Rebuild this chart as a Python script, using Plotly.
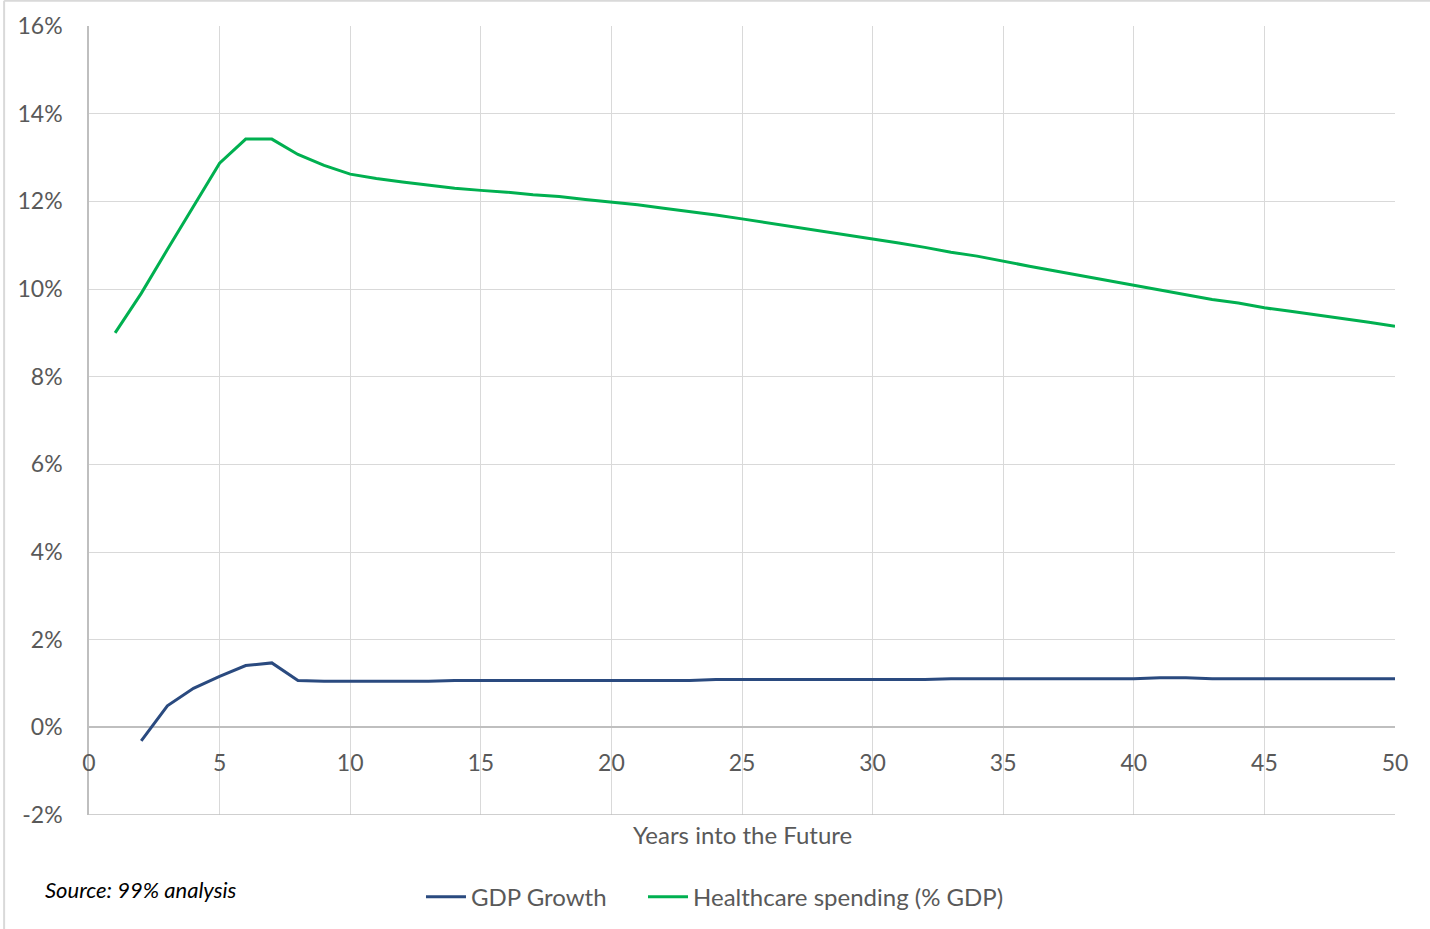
import plotly.graph_objects as go

# Years into the future
years = list(range(1, 51))

# GDP growth (%), no value for year 1
gdp_growth = [None, -0.31, 0.49, 0.89, 1.16, 1.41, 1.47, 1.07, 1.05, 1.05,
              1.05, 1.05, 1.05, 1.07, 1.07, 1.07, 1.07, 1.07, 1.07, 1.07,
              1.07, 1.07, 1.07, 1.09, 1.09, 1.09, 1.09, 1.09, 1.09, 1.09,
              1.09, 1.09, 1.11, 1.11, 1.11, 1.11, 1.11, 1.11, 1.11, 1.11,
              1.13, 1.13, 1.11, 1.11, 1.11, 1.11, 1.11, 1.11, 1.11, 1.11]

# Healthcare spending as % of GDP
healthcare = [9.0, 9.9, 10.9, 11.9, 12.87, 13.42, 13.42, 13.07, 12.82, 12.62,
              12.52, 12.44, 12.37, 12.30, 12.25, 12.21, 12.15, 12.11, 12.04, 11.98,
              11.92, 11.84, 11.77, 11.69, 11.60, 11.51, 11.42, 11.33, 11.23, 11.15,
              11.05, 10.95, 10.84, 10.75, 10.63, 10.52, 10.41, 10.30, 10.19, 10.08,
              9.98, 9.86, 9.76, 9.68, 9.57, 9.49, 9.41, 9.32, 9.24, 9.15]

x_ticks = list(range(0, 51, 5))
y_ticks = list(range(-2, 17, 2))
y_tick_labels = [f"{v}%" for v in y_ticks]

FONT = "Lato, Carlito, Calibri, sans-serif"
GREY = "#595959"

fig = go.Figure()
fig.add_trace(go.Scatter(x=years, y=gdp_growth, mode="lines", name="GDP Growth",
                         legend="legend",
                         line=dict(color="#2a4a7f", width=3)))
fig.add_trace(go.Scatter(x=years, y=healthcare, mode="lines",
                         name="Healthcare spending (% GDP)", legend="legend2",
                         line=dict(color="#00b050", width=3)))

legend_style = dict(orientation="h", xanchor="left", y=-0.104, yanchor="middle",
                    itemwidth=40, font=dict(size=24, color=GREY),
                    bgcolor="rgba(0,0,0,0)")

y_min, y_max = -2, 16
fig.update_layout(
    width=1430, height=929,
    margin=dict(l=89, r=35, t=26, b=114, autoexpand=False),
    paper_bgcolor="white", plot_bgcolor="white",
    font=dict(family=FONT, size=23, color=GREY),
    showlegend=True,
    legend=dict(x=0.2542, **legend_style),
    legend2=dict(x=0.4242, **legend_style),
    xaxis=dict(range=[0, 50], tickvals=x_ticks, showgrid=True, gridcolor="#d9d9d9",
               gridwidth=1.3, zeroline=False, showline=False, anchor="free",
               position=(0 - y_min) / (y_max - y_min), ticks="",
               ticklabelstandoff=20, tickfont=dict(size=23, color=GREY)),
    yaxis=dict(range=[y_min, y_max], tickvals=y_ticks, ticktext=y_tick_labels,
               showgrid=True, gridcolor="#d9d9d9", gridwidth=1.3,
               zeroline=True, zerolinecolor="#bfbfbf", zerolinewidth=1.6,
               showline=True, linecolor="#bfbfbf", linewidth=1.6,
               ticks="", ticklabelstandoff=20, tickfont=dict(size=23, color=GREY)),
    annotations=[
        dict(text="Years into the Future", x=0.5, y=-0.025, xref="paper", yref="paper",
             xanchor="center", yanchor="middle", showarrow=False,
             font=dict(size=24, color=GREY)),
        dict(text="<i>Source: 99% analysis</i>", x=-0.035, y=-0.095,
             xref="paper", yref="paper", xanchor="left", yanchor="middle",
             showarrow=False, font=dict(size=22, color="black")),
    ],
    shapes=[
        dict(type="line", xref="paper", yref="paper", x0=-0.065, x1=1.03,
             y0=1.032, y1=1.032, line=dict(color="#d9d9d9", width=2)),
        dict(type="line", xref="paper", yref="paper", x0=-0.065, x1=-0.065,
             y0=-0.15, y1=1.032, line=dict(color="#d9d9d9", width=2)),
        dict(type="line", xref="paper", yref="y", x0=0, x1=1, y0=-2, y1=-2,
             line=dict(color="#bfbfbf", width=1.6)),
    ],
)

fig.write_html("out.html")
